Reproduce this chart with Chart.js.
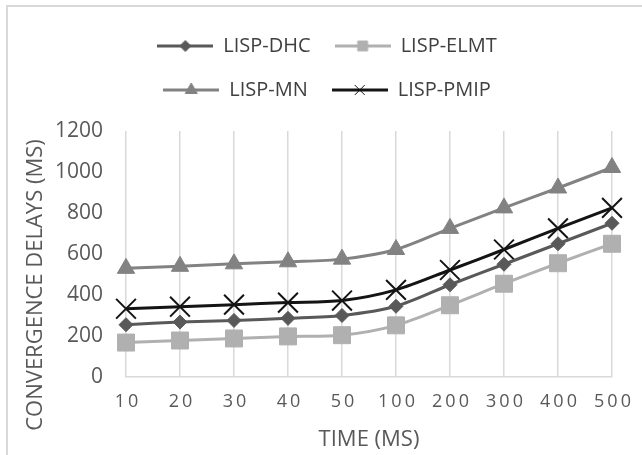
<!DOCTYPE html>
<html><head><meta charset="utf-8">
<script src="https://cdn.jsdelivr.net/npm/chart.js@4.4.1/dist/chart.umd.min.js"></script>
<style>
html,body{margin:0;padding:0;background:#fff;}
#wrap{position:relative;width:642px;height:455px;overflow:hidden;}
#frame{position:absolute;left:6px;top:5px;width:700px;height:520px;border:2px solid #d9d9d9;box-sizing:border-box;}
canvas{position:absolute;left:0;top:0;}
</style></head><body>
<div id="wrap"><div id="frame"></div><canvas id="c" width="642" height="455"></canvas></div>
<script>
const categories = ['10','20','30','40','50','100','200','300','400','500'];
const seriesNames = ['LISP-DHC','LISP-ELMT','LISP-MN','LISP-PMIP'];
const dhc  = [255,268,276,286,300,345,450,550,650,750];
const elmt = [168,178,188,198,204,252,350,455,555,650];
const mn   = [530,540,552,562,575,622,725,825,922,1022];
const pmip = [333,343,353,363,373,425,522,622,725,825];
const yTicks = [0,200,400,600,800,1000,1200];
const xTitle = 'TIME (MS)';
const yTitle = 'CONVERGENCE DELAYS (MS)';

const FONT = '"Open Sans", "Noto Sans", sans-serif';
const colors = ['#595959','#b0b0b0','#828282','#141414'];
const styles = ['rectRot','rect','triangle','crossRot'];
const radii = [7,12,10,14];
const pbw = [1,1,1,2];
const legendRadii = [5.5,7,7,7];

function makeIcon(i){
  const cv = document.createElement('canvas');
  cv.width = 56; cv.height = 20;
  const c = cv.getContext('2d');
  c.strokeStyle = colors[i]; c.lineWidth = 3;
  c.beginPath(); c.moveTo(0,10); c.lineTo(56,10); c.stroke();
  c.fillStyle = colors[i]; c.strokeStyle = colors[i];
  c.lineWidth = 1;
  Chart.helpers.drawPoint(c, {pointStyle: styles[i], radius: legendRadii[i], borderWidth: 1, rotation:0}, 28, 10);
  return cv;
}

const valueSets = [dhc, elmt, mn, pmip];
const datasets = valueSets.map((vals, i) => ({
  label: seriesNames[i],
  data: vals,
  borderColor: colors[i],
  backgroundColor: colors[i],
  borderWidth: 3,
  pointStyle: styles[i],
  pointRadius: radii[i],
  pointHoverRadius: radii[i],
  pointBackgroundColor: colors[i],
  pointBorderColor: colors[i],
  pointBorderWidth: pbw[i],
  tension: 0.3,
  clip: false
}));

const hacks = {
  id: 'hacks',
  beforeLayout(chart){
    const lg = chart.legend;
    if (lg && !lg._capped){
      const orig = lg.update;
      lg.update = function(maxW, maxH, margins){
        orig.call(this, Math.min(maxW, 460), maxH, margins);
        this.height += 21;
      };
      lg._capped = true;
    }
  },
  afterLayout(chart){
    const lg = chart.legend;
    lg.left += 21; lg.right += 21;
  },
  beforeDraw(chart){
    const xs = chart.scales.x;
    if (xs && !xs._spaced){
      const orig = xs.drawLabels;
      xs.drawLabels = function(a){
        const c = this.ctx; c.save(); c.letterSpacing = '3px'; orig.call(this, a); c.restore();
      };
      xs._spaced = true;
    }
  },
  afterDraw(chart){
    const c = chart.ctx;
    const ca = chart.chartArea;
    c.save();
    c.translate(36, (ca.top + ca.bottom)/2 + 31);
    c.rotate(-Math.PI/2);
    c.font = '22px ' + FONT;
    c.fillStyle = '#595959';
    c.textAlign = 'center';
    c.textBaseline = 'middle';
    c.fillText(yTitle, 0, 0);
    c.restore();
  }
};

new Chart(document.getElementById('c'), {
  type: 'line',
  data: { labels: categories, datasets },
  plugins: [hacks],
  options: {
    responsive: false,
    animation: false,
    layout: { padding: { top: 12, right: 30, bottom: 1, left: 0 } },
    plugins: {
      tooltip: { enabled: false },
      legend: {
        position: 'top',
        labels: {
          usePointStyle: true,
          pointStyleWidth: 56,
          padding: 24,
          color: '#404040',
          font: { size: 20, family: FONT },
          generateLabels(chart){
            return chart.data.datasets.map((ds, i) => ({
              text: ds.label,
              pointStyle: makeIcon(i),
              fillStyle: colors[i],
              strokeStyle: colors[i],
              lineWidth: 0,
              fontColor: '#404040',
              hidden: false,
              datasetIndex: i
            }));
          }
        }
      }
    },
    scales: {
      x: {
        offset: false,
        grid: { display: true, color: '#d9d9d9', lineWidth: 1.5, drawTicks: false },
        border: { display: true, color: '#d9d9d9', width: 1.5 },
        ticks: { color: '#595959', font: { size: 18, family: FONT }, padding: 14, labelOffset: 2, maxRotation: 0, autoSkip: false },
        title: { display: true, text: xTitle, color: '#595959', font: { size: 22, family: FONT }, padding: { top: 0, bottom: 1 } }
      },
      y: {
        min: 0, max: 1200,
        afterBuildTicks(s){ s.ticks = yTicks.map(v => ({ value: v })); },
        afterFit(s){ s.width = 126; },
        grid: { display: false, drawTicks: false },
        border: { display: false },
        ticks: { color: '#595959', font: { size: 21, family: FONT }, padding: 23, callback: v => String(v) }
      }
    }
  }
});
</script>
</body></html>
